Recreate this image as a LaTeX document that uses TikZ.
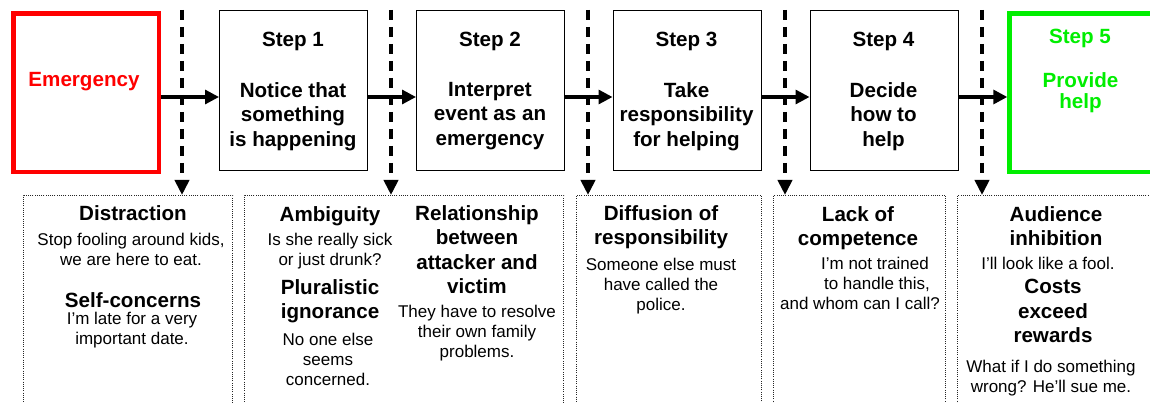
\documentclass[tikz,border=0pt]{standalone}
\usepackage{fontspec}
\setmainfont{Liberation Sans}
\usetikzlibrary{arrows.meta}
\definecolor{alarmred}{RGB}{255,0,0}
\definecolor{helpgreen}{RGB}{0,238,0}
\begin{document}
\begin{tikzpicture}[x=1pt,y=-1pt,
  stepbox/.style={draw=black,line width=1pt,minimum width=148pt,minimum height=160pt,inner sep=0pt,anchor=north west},
  head/.style={font=\fontsize{20.6}{24.5}\selectfont\bfseries,align=center,anchor=north,inner sep=0pt},
  body/.style={font=\fontsize{17}{20}\selectfont,align=center,anchor=north,inner sep=0pt},
  obsbox/.style={draw=black!85,line width=1pt,dash pattern=on 1pt off 1.2pt,minimum height=320pt,inner sep=0pt,anchor=north west},
  flow/.style={line width=3.2pt,-{Triangle[length=14pt,width=14pt]}},
  hinder/.style={line width=4.5pt,dash pattern=on 10pt off 7pt,-{Triangle[length=15pt,width=14pt]}},
]
% canvas and clipping (boxes on the right and bottom run off the edge)
\fill[white] (0,0) rectangle (1150,403);
\useasboundingbox (0,0) rectangle (1150,403);
\clip (0,0) rectangle (1150,403);

% the five steps, framed by the emergency and the helping outcome
\node[draw=alarmred,line width=4.6pt,minimum width=145.4pt,minimum height=158.4pt,inner sep=0pt,anchor=north west] (emerg) at (11.3,11.3) {};
\node[stepbox] (step1) at (219,10) {};
\node[stepbox] (step2) at (416,10) {};
\node[stepbox] (step3) at (612.5,10) {};
\node[stepbox] (step4) at (809.5,10) {};
\node[draw=helpgreen,line width=4.6pt,minimum width=250pt,minimum height=158.4pt,inner sep=0pt,anchor=north west] (step5) at (1007.3,11.3) {};

\node[head,text=alarmred] (emergt) at (84,72) {Emergency};

\node[head] (s1a) at (293,32) {Step 1};
\node[head] (s1b) at (293,82) {Notice that\\something\\is happening};
\node[head] (s2a) at (490,32) {Step 2};
\node[head] (s2b) at (490,82) {Interpret\\event as an\\emergency};
\node[head] (s3a) at (686.5,32) {Step 3};
\node[head] (s3b) at (686.5,82) {Take\\responsibility\\for helping};
\node[head] (s4a) at (883.5,32) {Step 4};
\node[head] (s4b) at (883.5,82) {Decide\\how to\\help};
\node[head,text=helpgreen] (s5a) at (1080,29) {Step 5};
\node[head,text=helpgreen,font=\fontsize{20.6}{21}\selectfont\bfseries] (s5b) at (1080.5,72) {Provide\\help};

% flow from one step to the next
\coordinate (row) at (0,97);
\draw[flow] (emerg.east |- row) -- (step1.west |- row);
\draw[flow] (step1.east |- row) -- (step2.west |- row);
\draw[flow] (step2.east |- row) -- (step3.west |- row);
\draw[flow] (step3.east |- row) -- (step4.west |- row);
\draw[flow] (step4.east |- row) -- (step5.west |- row);

% barriers below each transition
\node[obsbox,minimum width=209pt] (obs1) at (23,195) {};
\node[obsbox,minimum width=319pt] (obs2) at (244,195) {};
\node[obsbox,minimum width=185pt] (obs3) at (576,195) {};
\node[obsbox,minimum width=172pt] (obs4) at (773,195) {};
\node[obsbox,minimum width=260pt] (obs5) at (957,195) {};

\coordinate (h1) at (182,10);
\coordinate (h2) at (391,10);
\coordinate (h3) at (588,10);
\coordinate (h4) at (785,10);
\coordinate (h5) at (982,10);
\draw[hinder] (h1) -- (h1 |- obs1.north);
\draw[hinder] (h2) -- (h2 |- obs2.north);
\draw[hinder] (h3) -- (h3 |- obs3.north);
\draw[hinder] (h4) -- (h4 |- obs4.north);
\draw[hinder] (h5) -- (h5 |- obs5.north);

% barrier texts
\node[head] (b1a) at (133,205) {Distraction};
\node[body] (b1b) at (131,233) {Stop fooling around kids,\\we are here to eat.};
\node[head] (b1c) at (133,292) {Self-concerns};
\node[body] (b1d) at (132,312) {I’m late for a very\\important date.};

\node[head] (b2a) at (330,206) {Ambiguity};
\node[body] (b2b) at (330,233) {Is she really sick\\or just drunk?};
\node[head] (b2c) at (330,279) {Pluralistic\\ignorance};
\node[body] (b2d) at (328,333) {No one else\\seems\\concerned.};
\node[head] (b2e) at (477,205) {Relationship\\between\\attacker and\\victim};
\node[body] (b2f) at (477,305) {They have to resolve\\their own family\\problems.};

\node[head] (b3a) at (661,205) {Diffusion of\\responsibility};
\node[body] (b3b) at (661,258) {Someone else must\\have called the\\police.};

\node[head] (b4a) at (858,206) {Lack of\\competence};
\node[body] (b4b) at (860,257) {\hspace*{30pt}I’m not trained\\\hspace*{34pt}to handle this,\\and whom can I call?};

\node[head] (b5a) at (1056,206) {Audience\\inhibition};
\node[body] (b5b) at (1048,257) {I’ll look like a fool.};
\node[head] (b5c) at (1053,279) {Costs\\exceed\\rewards};
\node[body] (b5d) at (1051,360) {What if I do something\\wrong? He’ll sue me.};
\end{tikzpicture}
\end{document}
